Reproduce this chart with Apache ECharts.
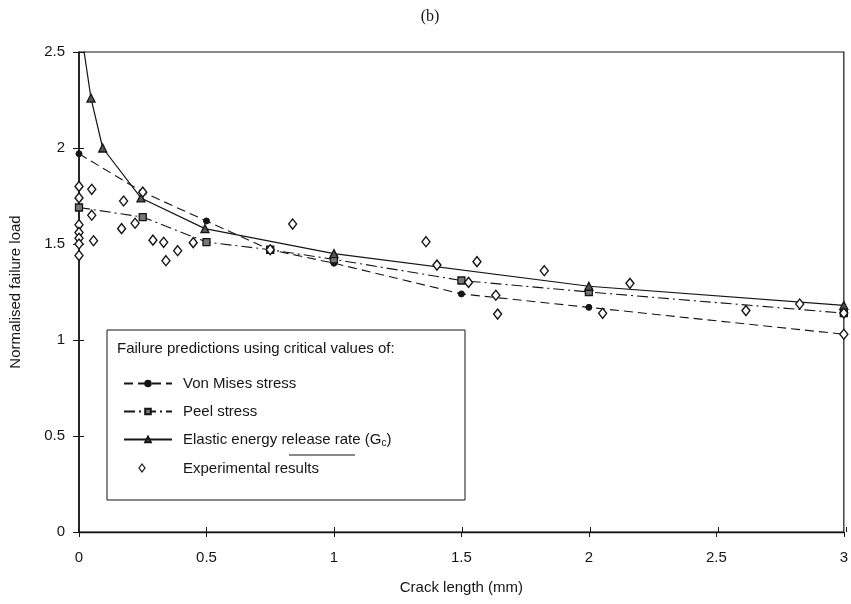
<!DOCTYPE html>
<html>
<head>
<meta charset="utf-8">
<script src="https://cdn.jsdelivr.net/npm/echarts@6/dist/echarts.min.js"></script>
<style>html,body{margin:0;padding:0;background:#fff;}#c{width:851px;height:604px;}</style>
</head>
<body>
<div id="c"></div>
<script>
// ---- data ----
const xTicks = [0, 0.5, 1, 1.5, 2, 2.5, 3];
const yTicks = [0, 0.5, 1, 1.5, 2, 2.5];

const vonMisesX = [0, 0.25, 0.5, 0.75, 1, 1.5, 2, 3];
const vonMisesY = [1.97, 1.77, 1.62, 1.47, 1.40, 1.24, 1.17, 1.03];

const peelX = [0, 0.25, 0.5, 0.75, 1, 1.5, 2, 3];
const peelY = [1.69, 1.64, 1.51, 1.47, 1.42, 1.31, 1.25, 1.14];

const gcX = [0, 0.047, 0.093, 0.243, 0.494, 1, 2, 3];
const gcY = [2.68, 2.26, 2.00, 1.74, 1.58, 1.45, 1.28, 1.18];

const expX = [0, 0, 0, 0, 0, 0, 0,
  0.05, 0.05, 0.057, 0.175, 0.167, 0.22, 0.25, 0.29, 0.332, 0.341, 0.387, 0.448,
  0.75, 0.838, 1.361, 1.404, 1.528, 1.561, 1.635, 1.642, 1.825, 2.054, 2.161,
  2.616, 2.827, 3, 3];
const expY = [1.80, 1.74, 1.60, 1.56, 1.53, 1.50, 1.44,
  1.785, 1.65, 1.517, 1.724, 1.58, 1.608, 1.77, 1.52, 1.509, 1.413, 1.465, 1.507,
  1.47, 1.604, 1.512, 1.39, 1.30, 1.408, 1.233, 1.135, 1.361, 1.139, 1.295,
  1.153, 1.1875, 1.14, 1.03];

const seriesNames = ['Von Mises stress', 'Peel stress', 'Elastic energy release rate (Gc)', 'Experimental results'];
const legendHeader = 'Failure predictions using critical values of:';

// ---- build ----
const zip = (xs, ys) => xs.map((x, i) => [x, ys[i]]);
const gcData = zip(gcX, gcY).map(p => (p[1] > 2.5 ? { value: p, symbol: 'none' } : p));
const ink = '#151515';
const fontSans = 'Liberation Sans, Arial, sans-serif';
const gridBox = { left: 78, right: 5, top: 52, bottom: 72 };

const chart = echarts.init(document.getElementById('c'), null, { renderer: 'canvas' });
const option = {
  animation: false,
  backgroundColor: '#fff',
  title: {
    text: '(b)', left: 425, top: 4, textAlign: 'center',
    textStyle: { fontFamily: 'Liberation Serif, Times New Roman, serif', fontSize: 16, fontWeight: 'normal', color: ink }
  },
  grid: [
    Object.assign({ show: true, borderColor: ink, borderWidth: 1.2, containLabel: false }, gridBox),
    Object.assign({ show: false, containLabel: false }, gridBox)
  ],
  xAxis: [{
    gridIndex: 0, type: 'value', min: 0, max: 3, interval: 0.5,
    name: 'Crack length (mm)', nameLocation: 'middle', nameGap: 48,
    nameTextStyle: { fontFamily: fontSans, fontSize: 15, color: ink },
    axisLine: { show: true, onZero: false, lineStyle: { color: ink, width: 1.3 } },
    axisTick: { show: true, inside: false, length: 5, lineStyle: { color: ink } },
    axisLabel: { fontFamily: fontSans, fontSize: 15, color: ink, margin: 18, formatter: v => String(v) },
    splitLine: { show: false }
  }, {
    gridIndex: 1, type: 'value', min: 0, max: 3, interval: 0.5, position: 'bottom',
    axisLine: { show: false }, axisLabel: { show: false }, splitLine: { show: false },
    axisTick: { show: true, inside: true, length: 5, lineStyle: { color: ink } }
  }],
  yAxis: [{
    gridIndex: 0, type: 'value', min: 0, max: 2.5, interval: 0.5,
    name: 'Normalised failure load', nameLocation: 'middle', nameGap: 56, nameRotate: 90,
    nameTextStyle: { fontFamily: fontSans, fontSize: 15, color: ink },
    axisLine: { show: true, onZero: false, lineStyle: { color: ink, width: 1.6 } },
    axisTick: { show: true, inside: false, length: 6, lineStyle: { color: ink } },
    axisLabel: { fontFamily: fontSans, fontSize: 15, color: ink, margin: 14, formatter: v => String(v) },
    splitLine: { show: false }
  }, {
    gridIndex: 1, type: 'value', min: 0, max: 2.5, interval: 0.5, position: 'left',
    axisLine: { show: false }, axisLabel: { show: false }, splitLine: { show: false },
    axisTick: { show: true, inside: true, length: 6, lineStyle: { color: ink } }
  }],
  legend: {
    left: 118, top: 371, orient: 'vertical', itemWidth: 48, itemHeight: 7, itemGap: 13,
    data: seriesNames.slice(0, 3),
    textStyle: {
      fontFamily: fontSans, fontSize: 15, color: ink, padding: [0, 0, 0, 6],
      rich: { s: { fontFamily: fontSans, fontSize: 10, color: ink, padding: [7, 0, 0, 0] } }
    },
    formatter: n => n === seriesNames[2] ? 'Elastic energy release rate (G{s|c})' : n,
    selectedMode: false, z: 10
  },
  graphic: [
    { type: 'rect', shape: { x: 107, y: 330, width: 358, height: 170 }, style: { fill: '#fff', stroke: ink, lineWidth: 1 }, z: 5 },
    { type: 'text', left: 117, top: 341, style: { text: legendHeader, font: '15px Liberation Sans, Arial, sans-serif', fill: ink }, z: 6 },
    { type: 'line', shape: { x1: 289, y1: 455, x2: 355, y2: 455 }, style: { stroke: ink, lineWidth: 1 }, z: 6 },
    { type: 'polygon', shape: { points: [[142, 464], [145, 468], [142, 472], [139, 468]] }, style: { fill: '#fff', stroke: ink, lineWidth: 1.2 }, z: 6 },
    { type: 'text', left: 183, top: 461, style: { text: seriesNames[3], font: '15px Liberation Sans, Arial, sans-serif', fill: ink }, z: 6 }
  ],
  series: [
    {
      name: seriesNames[0], type: 'line', data: zip(vonMisesX, vonMisesY), z: 3,
      symbol: 'circle', symbolSize: 6,
      lineStyle: { color: ink, width: 1.1, type: [9, 5] },
      itemStyle: { color: ink, borderColor: ink, borderWidth: 1 }
    },
    {
      name: seriesNames[1], type: 'line', data: zip(peelX, peelY), z: 3,
      symbol: 'rect', symbolSize: 7,
      lineStyle: { color: ink, width: 1.1, type: [11, 4, 2, 4] },
      itemStyle: { color: '#777', borderColor: ink, borderWidth: 1.3 }
    },
    {
      name: seriesNames[2], type: 'line', data: gcData, z: 3, clip: true,
      symbol: 'triangle', symbolSize: 8,
      lineStyle: { color: ink, width: 1.2, type: 'solid' },
      itemStyle: { color: '#555', borderColor: ink, borderWidth: 1.3 }
    },
    {
      name: seriesNames[3], type: 'scatter', data: zip(expX, expY), z: 4,
      symbol: 'diamond', symbolSize: [8, 10],
      itemStyle: { color: '#fff', borderColor: ink, borderWidth: 1.4, opacity: 1 }
    }
  ]
};
chart.setOption(option);
</script>
</body>
</html>
